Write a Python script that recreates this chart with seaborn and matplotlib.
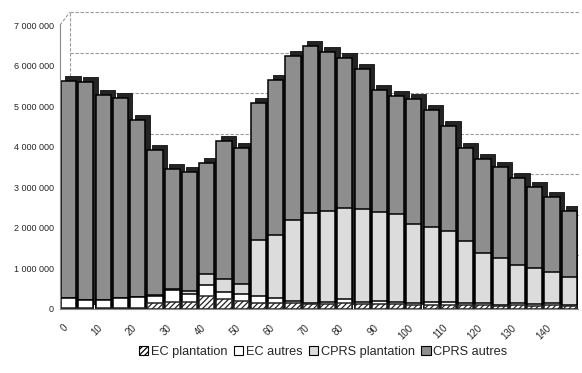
import numpy as np
import pandas as pd
import matplotlib
matplotlib.use("Agg")
import matplotlib.pyplot as plt
import matplotlib.transforms as mtransforms
from matplotlib.patches import Patch
from matplotlib.ticker import FuncFormatter
import seaborn as sns

# Age classes (years) and area by treatment, in units
ages = list(range(0, 150, 5))
ec_plantation = [30, 30, 30, 30, 30, 155, 160, 180, 320, 250, 200, 155, 140, 140, 120,
                 120, 150, 120, 120, 120, 100, 100, 100, 90, 90, 70, 90, 80, 90, 70]
ec_autres = [230, 190, 190, 235, 260, 170, 310, 190, 270, 160, 160, 165, 130, 60, 35,
             60, 90, 60, 80, 60, 50, 65, 80, 50, 50, 30, 50, 40, 50, 30]
cprs_plantation = [5, 5, 5, 5, 5, 5, 20, 80, 260, 320, 250, 1390, 1560, 1990, 2210,
                   2230, 2260, 2280, 2190, 2150, 1940, 1860, 1740, 1540, 1240, 1160, 940, 900, 780, 680]
cprs_autres = [5365, 5375, 5055, 4940, 4375, 3600, 2950, 2920, 2740, 3420, 3350, 3380, 3820, 4050, 4120,
               3930, 3690, 3460, 3020, 2930, 3090, 2870, 2600, 2300, 2310, 2250, 2140, 1980, 1830, 1630]
y_ticks = [0, 1_000_000, 2_000_000, 3_000_000, 4_000_000, 5_000_000, 6_000_000, 7_000_000]
x_labels = [str(a) if a % 10 == 0 else "" for a in ages]

series_names = ["EC plantation", "EC autres", "CPRS plantation", "CPRS autres"]
series_vals = [ec_plantation, ec_autres, cprs_plantation, cprs_autres]
face_colors = ["white", "white", "#dcdcdc", "#8e8e8e"]
hatches = ["//////", None, None, None]

df = pd.DataFrame({"age": [str(a) for a in ages]})
cum = np.zeros(len(ages))
for name, vals in zip(series_names, series_vals):
    cum = cum + np.array(vals) * 1000
    df[name] = cum.copy()
order = df["age"].tolist()

sns.set_style("white")
plt.rcParams["font.family"] = ["Liberation Sans", "DejaVu Sans"]
plt.rcParams["hatch.linewidth"] = 0.9

fig = plt.figure(figsize=(5.82, 3.73), dpi=100)
ax = fig.add_axes([0.103, 0.172, 0.890, 0.790])
y_top = 7_270_000
wall_dx, wall_dy = 0.10, 0.13  # inches
grid_style = dict(color="#9a9a9a", lw=0.8, ls=(0, (3, 1.5)), clip_on=False, zorder=0)

# back wall: gridlines and left edge, lifted to suggest depth
depth = mtransforms.ScaledTranslation(wall_dx, wall_dy, fig.dpi_scale_trans)
for v in y_ticks[1:]:
    ax.plot([0, 0.985], [v, v], transform=ax.get_yaxis_transform() + depth, **grid_style)
ax.plot([0, 0], [0, y_ticks[-1]], transform=ax.get_yaxis_transform() + depth, **grid_style)
ax_w_in = 0.890 * 5.82
ax_h_in = 0.790 * 3.73
y_frac = y_ticks[-1] / y_top
ax.plot([0, wall_dx / ax_w_in], [y_frac, y_frac + wall_dy / ax_h_in],
        transform=ax.transAxes, **grid_style)

# dark depth block behind each column (top cap and right side)
sns.barplot(data=df, x="age", y="CPRS autres", order=order, color="#242424",
            saturation=1, width=0.88, edgecolor="#111111", linewidth=0.6, ax=ax, zorder=1)
shadow_shift = mtransforms.ScaledTranslation(0.045, 0.05, fig.dpi_scale_trans)
for p in ax.patches:
    p.set_transform(ax.transData + shadow_shift)

# stacked columns, drawn from the full total down to the bottom layer
for name, fc, h in reversed(list(zip(series_names, face_colors, hatches))):
    sns.barplot(data=df, x="age", y=name, order=order, color=fc, saturation=1,
                width=0.88, edgecolor="black", linewidth=1.1, ax=ax, zorder=2)
    if h:
        for p in ax.patches[-len(ages):]:
            p.set_hatch(h)
            p.set_edgecolor("#222222")

ax.set_xlim(-0.5, len(ages) - 0.5)
ax.set_ylim(0, y_top)
ax.set_yticks(y_ticks)
ax.yaxis.set_major_formatter(FuncFormatter(lambda v, _: f"{int(v):,}".replace(",", " ")))
ax.set_xticks(range(len(ages)))
ax.set_xticklabels(x_labels, rotation=45, ha="right", rotation_mode="anchor")
ax.tick_params(axis="y", labelsize=6.5, length=2.5, width=0.6, color="#777777", pad=2)
ax.tick_params(axis="x", labelsize=7, length=2.0, width=0.6, color="#999999", pad=8)
label_shift = mtransforms.ScaledTranslation(-0.06, 0, fig.dpi_scale_trans)
for lbl in ax.get_xticklabels():
    lbl.set_transform(lbl.get_transform() + label_shift)
ax.set_xlabel("")
ax.set_ylabel("")

for s in ["top", "right"]:
    ax.spines[s].set_visible(False)
for s in ["left", "bottom"]:
    ax.spines[s].set_color("#8a8a8a")
    ax.spines[s].set_linewidth(0.8)
    ax.spines[s].set_linestyle((0, (2, 1)))
ax.spines["left"].set_bounds(0, y_ticks[-1])

handles = [Patch(facecolor=fc, edgecolor="black", hatch=h, linewidth=0.8, label=n)
           for n, fc, h in zip(series_names, face_colors, hatches)]
fig.legend(handles=handles, loc="center", bbox_to_anchor=(0.555, 0.056), ncol=4,
           frameon=False, fontsize=9.2, handlelength=0.75, handleheight=0.75,
           handletextpad=0.2, columnspacing=0.5)

fig.savefig("out.png", dpi=100)
